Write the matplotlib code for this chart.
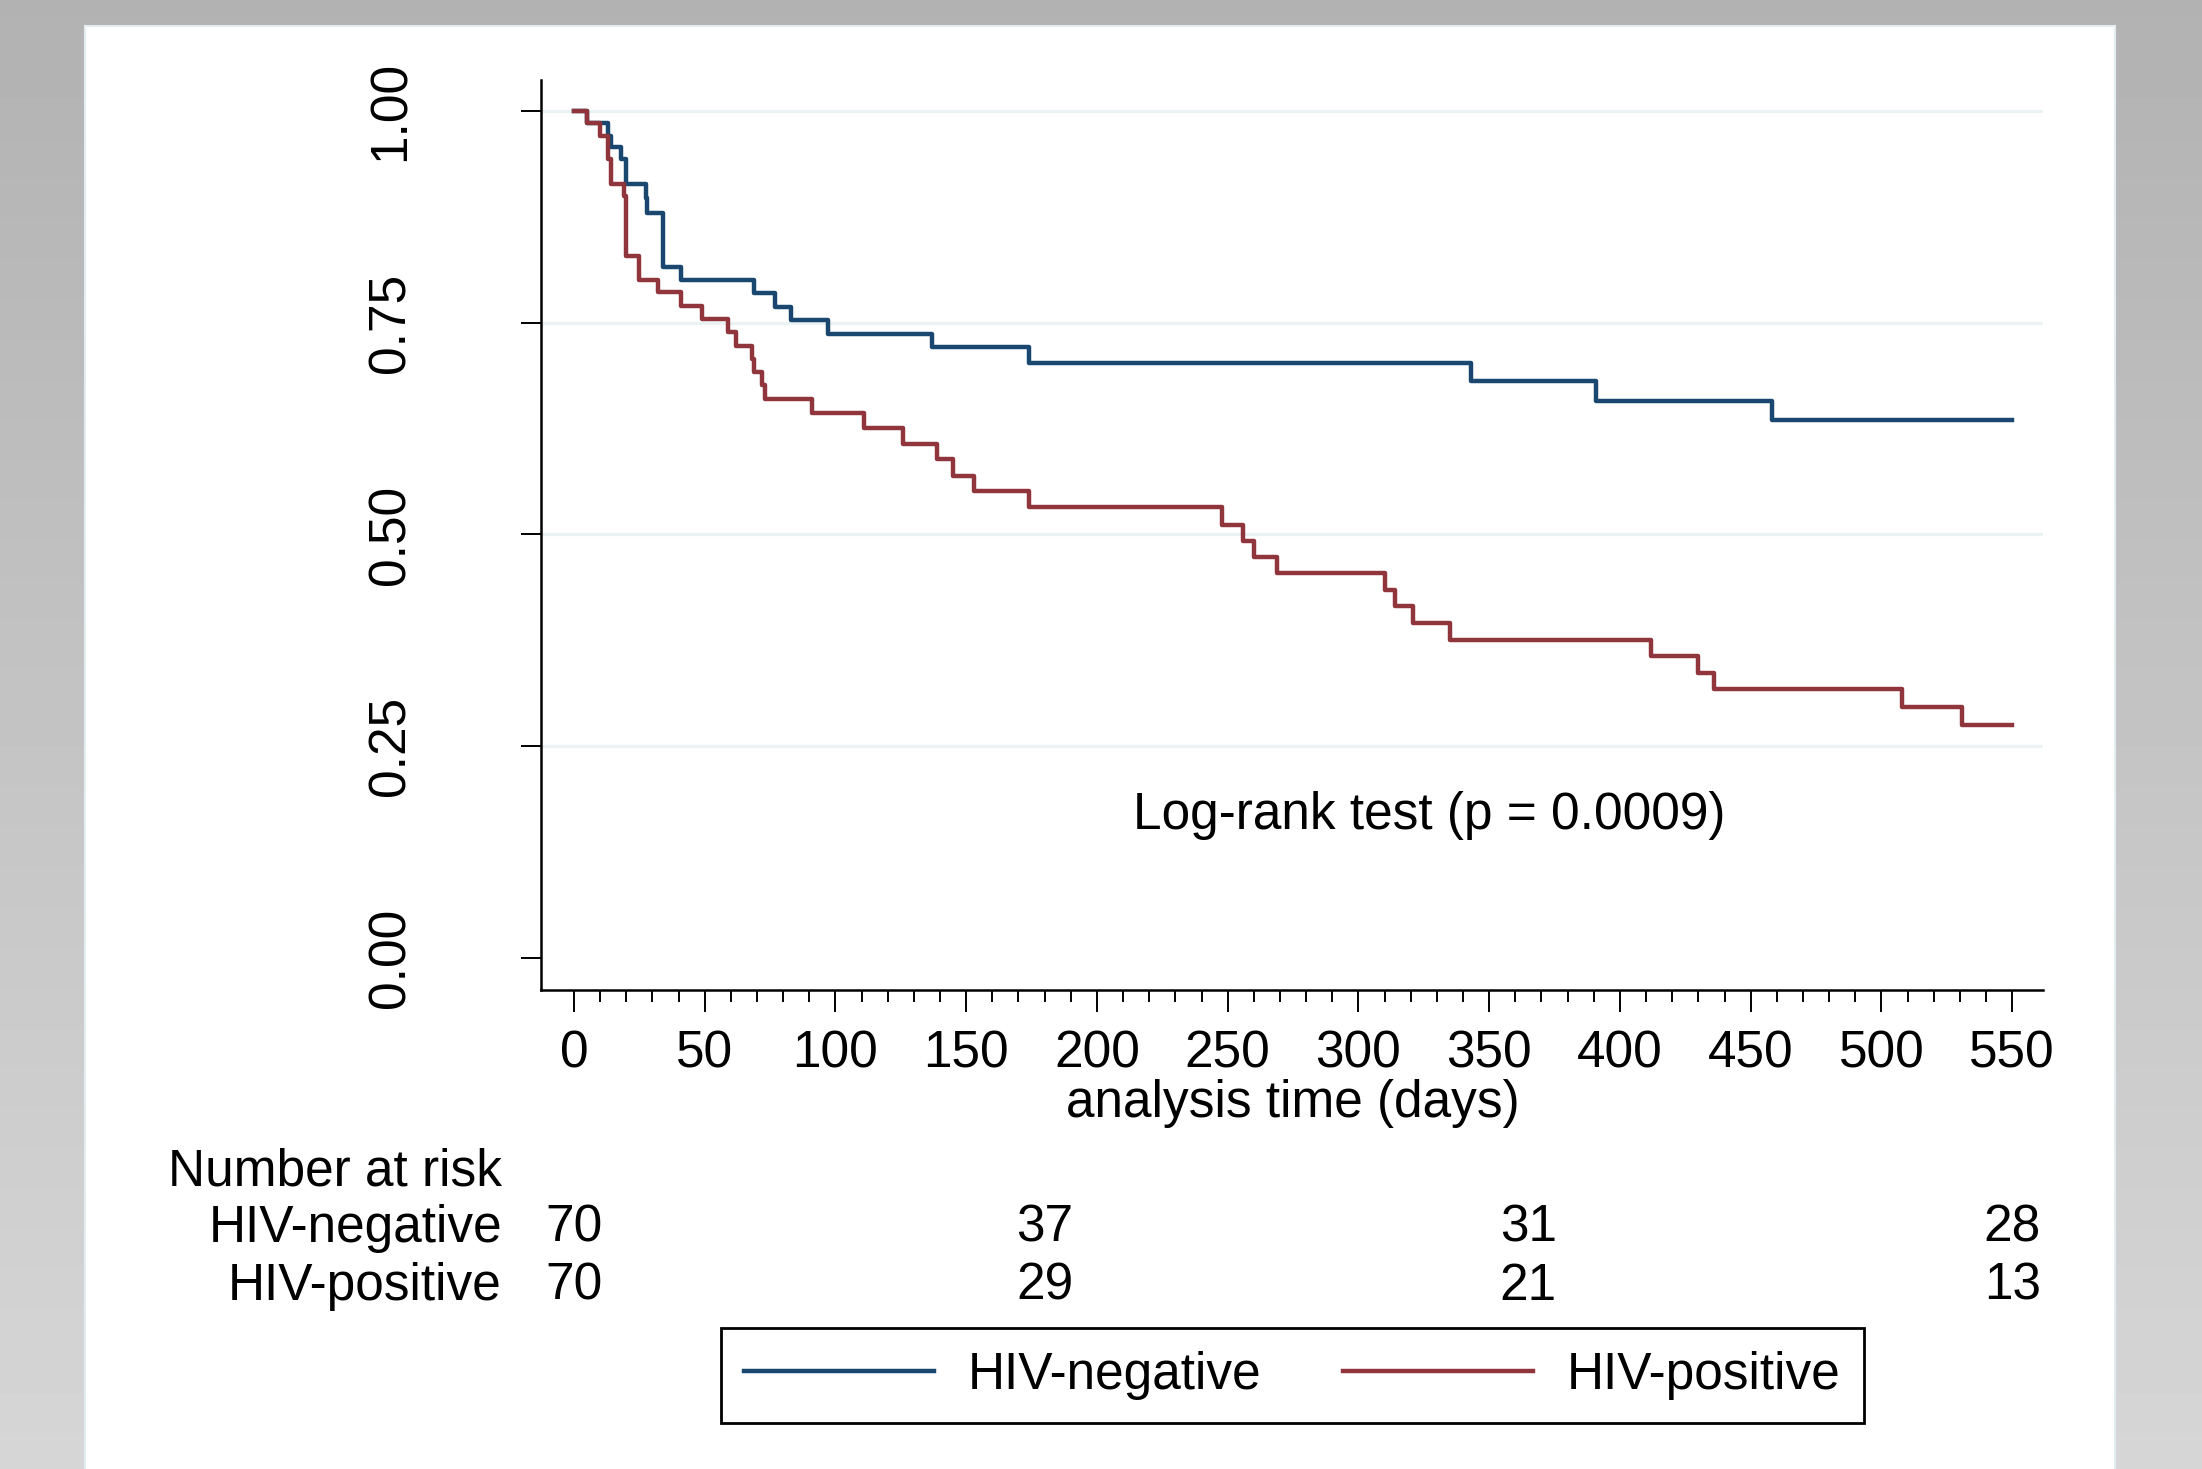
import matplotlib
matplotlib.use("Agg")
import matplotlib.pyplot as plt
import numpy as np
from matplotlib.patches import Rectangle
from matplotlib.transforms import blended_transform_factory

plt.rcParams["font.family"] = ["Liberation Sans", "DejaVu Sans"]

# Kaplan-Meier steps (day of drop, survival after it)
neg_days = [0, 5, 13, 14, 18, 20, 27.5, 28, 34, 41, 69, 77, 83, 97, 137, 174,
            343, 391, 458, 550]
neg_surv = [1.0, 0.986, 0.971, 0.957, 0.943, 0.914, 0.897, 0.880, 0.816, 0.801,
            0.785, 0.769, 0.753, 0.737, 0.721, 0.702, 0.681, 0.658, 0.635, 0.635]

pos_days = [0, 5, 10, 13, 14, 19, 20, 25, 32, 41, 49, 59, 62, 68, 69, 72, 73,
            91, 111, 126, 139, 145, 153, 174, 248, 256, 260, 269, 310, 314, 321,
            335, 412, 430, 436, 508, 531, 550]
pos_surv = [1.0, 0.986, 0.971, 0.943, 0.914, 0.900, 0.829, 0.800, 0.786, 0.770,
            0.755, 0.739, 0.723, 0.707, 0.692, 0.676, 0.660, 0.644, 0.626, 0.607,
            0.589, 0.569, 0.551, 0.532, 0.511, 0.492, 0.474, 0.455, 0.435, 0.415,
            0.395, 0.376, 0.357, 0.337, 0.317, 0.296, 0.275, 0.275]

# number at risk table
risk_days = [0, 180, 365, 550]
risk_neg = [70, 37, 31, 28]
risk_pos = [70, 29, 21, 13]

y_ticks = [0.0, 0.25, 0.5, 0.75, 1.0]
x_ticks = list(range(0, 551, 50))

W, H = 2202, 1469
FS = 37
NAVY = "#1a476f"
MAROON = "#90353b"

fig = plt.figure(figsize=(W / 100, H / 100), dpi=100)

# grey gradient backdrop with the white plot panel on it
bg = fig.add_axes([0, 0, 1, 1], zorder=-10)
grad = np.linspace(178, 214, 256)[:, None] / 255.0
bg.imshow(grad, aspect="auto", cmap="gray", vmin=0, vmax=1, extent=(0, 1, 0, 1))
bg.add_patch(Rectangle((85 / W, -0.01), (2115 - 85) / W, 1.01 - 26 / H,
                       facecolor="white", edgecolor="#e3ecee", lw=1.5))
bg.set_xlim(0, 1)
bg.set_ylim(0, 1)
bg.axis("off")

ax = fig.add_axes([541 / W, 1 - 990 / H, (2043 - 541) / W, (990 - 79.5) / H])
ax.set_facecolor("none")

ax.step(neg_days, neg_surv, where="post", color=NAVY, lw=3.2, label="HIV-negative")
ax.step(pos_days, pos_surv, where="post", color=MAROON, lw=3.2, label="HIV-positive")

ax.set_xlim(-12.6, 561.8)
ax.set_ylim(-0.0378, 1.0372)

for yv in y_ticks[1:]:
    ax.axhline(yv, color="#eaf2f3", lw=2.3, zorder=0)

for side in ["top", "right"]:
    ax.spines[side].set_visible(False)
for side in ["left", "bottom"]:
    ax.spines[side].set_linewidth(1.8)

ax.set_xticks(x_ticks)
ax.set_xticks(range(0, 551, 10), minor=True)
ax.set_yticks(y_ticks)
ax.set_yticklabels(["%.2f" % v for v in y_ticks], rotation=90, va="center")
ax.tick_params(axis="x", which="major", length=15.6, width=1.4, labelsize=FS, pad=13)
ax.tick_params(axis="x", which="minor", length=8.4, width=1.4)
ax.tick_params(axis="y", which="major", length=14.4, width=1.4, labelsize=FS, pad=76)

ax.text(327, 0.152, "Log-rank test (p = 0.0009)", ha="center", va="baseline",
        fontsize=FS)

fig.text(1293 / W, 1 - 1117 / H, "analysis time (days)", ha="center",
         va="baseline", fontsize=FS)

# number at risk rows under the x axis
trans = blended_transform_factory(ax.transData, fig.transFigure)
fig.text(502 / W, 1 - 1185 / H, "Number at risk", ha="right", va="baseline", fontsize=FS)
fig.text(502 / W, 1 - 1242 / H, "HIV-negative", ha="right", va="baseline", fontsize=FS)
fig.text(502 / W, 1 - 1300 / H, "HIV-positive", ha="right", va="baseline", fontsize=FS)
for d, n in zip(risk_days, risk_neg):
    ax.text(d, 1 - 1242 / H, str(n), transform=trans, ha="center", va="baseline",
            fontsize=FS, clip_on=False)
for d, n in zip(risk_days, risk_pos):
    ax.text(d, 1 - 1300 / H, str(n), transform=trans, ha="center", va="baseline",
            fontsize=FS, clip_on=False)

handles, labels = ax.get_legend_handles_labels()
leg = fig.legend(handles, labels, loc="center", bbox_to_anchor=(0.58697, 0.06365),
                 ncol=2, fontsize=FS, frameon=True, fancybox=False, framealpha=1,
                 edgecolor="black", handlelength=3.7, handletextpad=0.66,
                 columnspacing=1.58, borderpad=0.45)
leg.get_frame().set_linewidth(2)

fig.savefig("out.png", dpi=100)
